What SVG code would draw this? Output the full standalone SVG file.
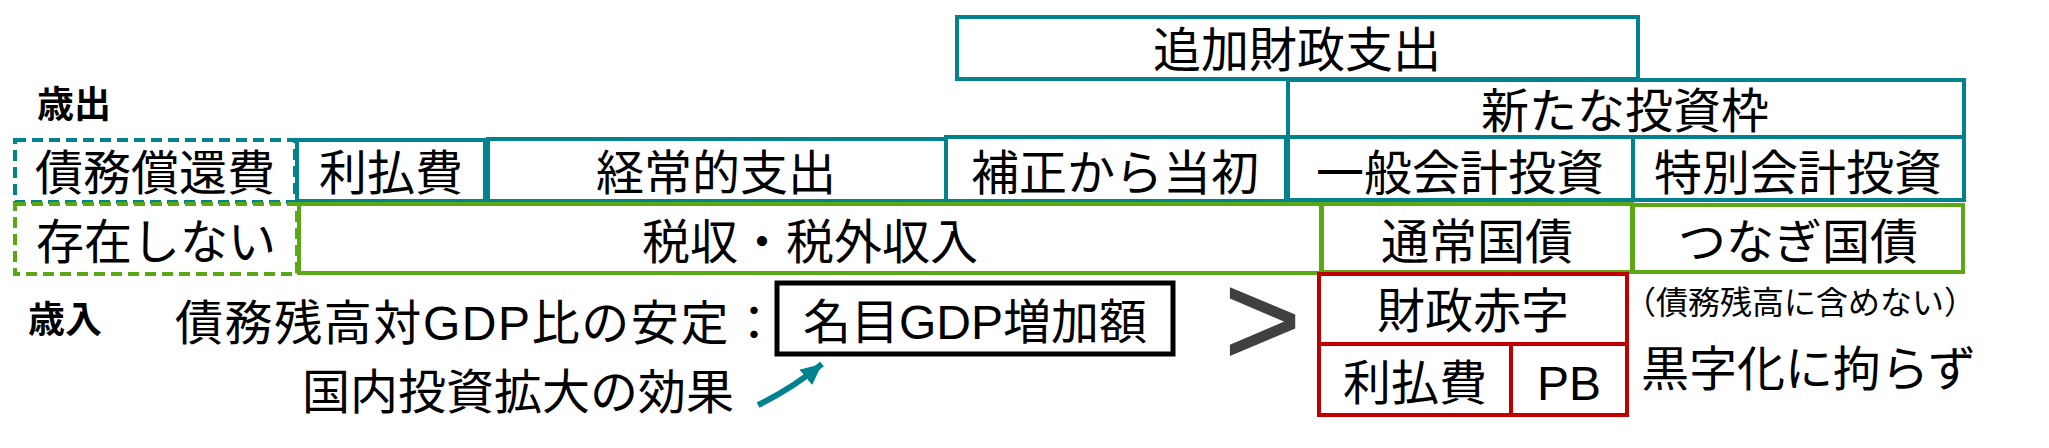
<svg xmlns="http://www.w3.org/2000/svg" width="2049" height="448" viewBox="0 0 2049 448">
<style>
  text { font-family: "Liberation Sans", "Noto Sans CJK JP", sans-serif; font-size: 48px; fill: #000; }
  .c { text-anchor: middle; }
  .lbl { font-weight: bold; font-size: 37px; }
  .small { font-size: 32px; }
  .teal { fill: #fff; stroke: #00838F; stroke-width: 4; }
  .green { fill: #fff; stroke: #5AA816; stroke-width: 4; }
  .red { fill: #fff; stroke: #C00000; stroke-width: 4; }
  .dash { stroke-dasharray: 11 6; }
  .blk { fill: #fff; stroke: #000; stroke-width: 5; }
</style>
<defs>
  <marker id="ah" markerUnits="userSpaceOnUse" markerWidth="24" markerHeight="22" refX="21" refY="10" orient="auto">
    <path d="M0,0 L21,10 L0,20 z" fill="#00838F"/>
  </marker>
</defs>
<rect width="2049" height="448" fill="#fff"/>

<text id="label-saishutsu" class="lbl" x="37" y="118">歳出</text>
<text id="label-sainyu" class="lbl" x="28" y="333">歳入</text>

<g id="n-tsuika"><rect class="teal" x="957" y="17" width="681" height="62"/><text class="c" x="1297" y="67">追加財政支出</text></g>
<g id="n-arata"><rect class="teal" x="1288" y="80" width="676" height="57"/><text class="c" x="1625" y="128">新たな投資枠</text></g>

<g id="n-saimu"><rect class="teal dash" x="15" y="140" width="280" height="62"/><text class="c" x="155" y="190">債務償還費</text></g>
<g id="n-riharai"><rect class="teal" x="297" y="140" width="188" height="61"/><text class="c" x="391" y="190">利払費</text></g>
<g id="n-keijo"><rect class="teal" x="488" y="139" width="458" height="62"/><text class="c" x="716" y="190">経常的支出</text></g>
<g id="n-hosei"><rect class="teal" x="946" y="137" width="340" height="64"/><text class="c" x="1115" y="190">補正から当初</text></g>
<g id="n-ippan"><rect class="teal" x="1288" y="137" width="345" height="63"/><text class="c" x="1460" y="190">一般会計投資</text></g>
<g id="n-tokubetsu"><rect class="teal" x="1633" y="137" width="331" height="63"/><text class="c" x="1798" y="190">特別会計投資</text></g>

<g id="n-sonzai"><rect class="green dash" x="15" y="204" width="282" height="70"/><text class="c" x="156" y="259">存在しない</text></g>
<g id="n-zeishu"><rect class="green" x="299" y="204" width="1022" height="69"/><text class="c" x="810" y="259">税収・税外収入</text></g>
<g id="n-tsujo"><rect class="green" x="1322" y="204" width="310" height="68"/><text class="c" x="1477" y="259">通常国債</text></g>
<g id="n-tsunagi"><rect class="green" x="1633" y="205" width="330" height="67"/><text class="c" x="1798" y="259">つなぎ国債</text></g>

<g id="n-akaji"><rect class="red" x="1319" y="274" width="308" height="70"/><text class="c" x="1473" y="328">財政赤字</text></g>
<g id="n-riharai2"><rect class="red" x="1319" y="344" width="192" height="71"/><text class="c" x="1415" y="400">利払費</text></g>
<g id="n-pb"><rect class="red" x="1511" y="344" width="116" height="71"/><text class="c" x="1569" y="400">PB</text></g>

<g id="n-meimoku"><rect class="blk" x="777" y="283" width="396" height="71"/><text class="c" x="975" y="339">名目GDP増加額</text></g>

<g id="t-antei"><text x="175" y="340" textLength="603" lengthAdjust="spacing">債務残高対GDP比の安定：</text></g>
<g id="t-kokunai"><text x="302" y="409">国内投資拡大の効果</text></g>
<g id="t-gt"><text x="1224" y="365" style="font-size:132px; fill:#404040; stroke:#404040; stroke-width:1.2;">&gt;</text></g>
<g id="t-fukumenai"><text class="c small" x="1800" y="314">（債務残高に含めない）</text></g>
<g id="t-kuroji"><text x="1641" y="386">黒字化に拘らず</text></g>

<g id="connectors">
  <path d="M758,405 Q793,388 822,364" fill="none" stroke="#00838F" stroke-width="6" marker-end="url(#ah)"/>
</g>
</svg>
